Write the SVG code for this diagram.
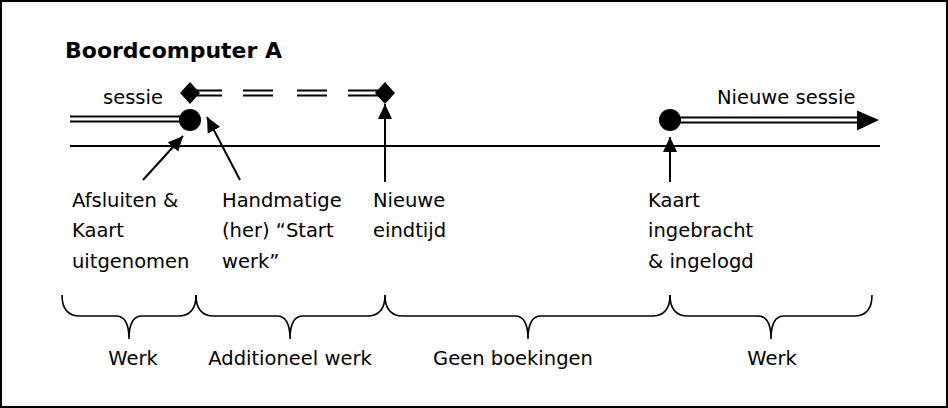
<svg xmlns="http://www.w3.org/2000/svg" width="948" height="408" viewBox="0 0 948 408">
<style>
text{font-family:"DejaVu Sans",Verdana,sans-serif;font-size:19.5px;fill:#000}
.t{font-weight:bold;font-size:22px}
.ln{stroke:#000;stroke-width:2;fill:none}
.br{stroke:#000;stroke-width:1.6;fill:none}
</style>
<defs>
<marker id="ahb" viewBox="0 0 10 10" refX="10" refY="5" markerWidth="15" markerHeight="15" markerUnits="userSpaceOnUse" orient="auto"><path d="M0,0.3 L10,5 L0,9.7 z" fill="#000"/></marker>
</defs>
<rect x="1" y="1" width="946" height="406" fill="#fff" stroke="#000" stroke-width="2"/>
<text class="t" x="65" y="58">Boordcomputer A</text>
<g id="timeline">
<line class="ln" x1="70" y1="146" x2="880" y2="146"/>
</g>
<g id="sessie">
<line class="ln" x1="70" y1="116.5" x2="190" y2="116.5"/>
<line class="ln" x1="70" y1="121.5" x2="190" y2="121.5"/>
<circle cx="190" cy="120" r="11" fill="#000"/>
<text x="103" y="104">sessie</text>
</g>
<g id="dashes">
<path class="ln" d="M193,90.5 H222 M243,90.5 H273 M297,90.5 H327 M348,90.5 H380 M193,95.5 H222 M243,95.5 H273 M297,95.5 H327 M348,95.5 H380"/>
<path id="d1" d="M190,82 L200,93 L190,104 L180,93 z" fill="#000"/>
<path id="d2" d="M385,82 L395,93 L385,104 L375,93 z" fill="#000"/>
</g>
<g id="nieuwe-sessie">
<line class="ln" x1="670" y1="117.5" x2="860" y2="117.5"/>
<line class="ln" x1="670" y1="122.5" x2="860" y2="122.5"/>
<path d="M857,110.5 L879,120 L857,130.5 z" fill="#000"/>
<circle cx="670" cy="120" r="11" fill="#000"/>
<text x="717" y="104">Nieuwe sessie</text>
</g>
<g id="connectors">
<line class="ln" x1="143" y1="180" x2="183" y2="136" marker-end="url(#ahb)"/>
<line class="ln" x1="240" y1="180" x2="207" y2="117" marker-end="url(#ahb)"/>
<line class="ln" x1="385" y1="182" x2="385" y2="104" marker-end="url(#ahb)"/>
<line class="ln" x1="670" y1="182" x2="670" y2="137" marker-end="url(#ahb)"/>
</g>
<g id="label-afsluiten">
<text x="72" y="207">Afsluiten &amp;</text>
<text x="72" y="237">Kaart</text>
<text x="72" y="268">uitgenomen</text>
</g>
<g id="label-handmatige">
<text x="222" y="207">Handmatige</text>
<text x="222" y="237">(her) “Start</text>
<text x="222" y="268">werk”</text>
</g>
<g id="label-eindtijd">
<text x="373" y="207">Nieuwe</text>
<text x="373" y="237">eindtijd</text>
</g>
<g id="label-kaart">
<text x="648" y="207">Kaart</text>
<text x="648" y="237">ingebracht</text>
<text x="648" y="268">&amp; ingelogd</text>
</g>
<g id="braces">
<path class="br" d="M62,295 Q62,316 80,316 L116,316 Q129,316 129,339 Q129,316 142,316 L178,316 Q196,316 196,295"/>
<path class="br" d="M196,295 Q196,316 214,316 L277,316 Q290,316 290,339 Q290,316 303,316 L367,316 Q385,316 385,295"/>
<path class="br" d="M385,295 Q385,316 403,316 L515,316 Q528,316 528,339 Q528,316 541,316 L652,316 Q670,316 670,295"/>
<path class="br" d="M670,295 Q670,316 688,316 L758,316 Q771,316 771,339 Q771,316 784,316 L854,316 Q872,316 872,295"/>
</g>
<g id="brace-labels">
<text x="133" y="365" text-anchor="middle">Werk</text>
<text x="290" y="365" text-anchor="middle">Additioneel werk</text>
<text x="513" y="365" text-anchor="middle">Geen boekingen</text>
<text x="772" y="365" text-anchor="middle">Werk</text>
</g>
</svg>
